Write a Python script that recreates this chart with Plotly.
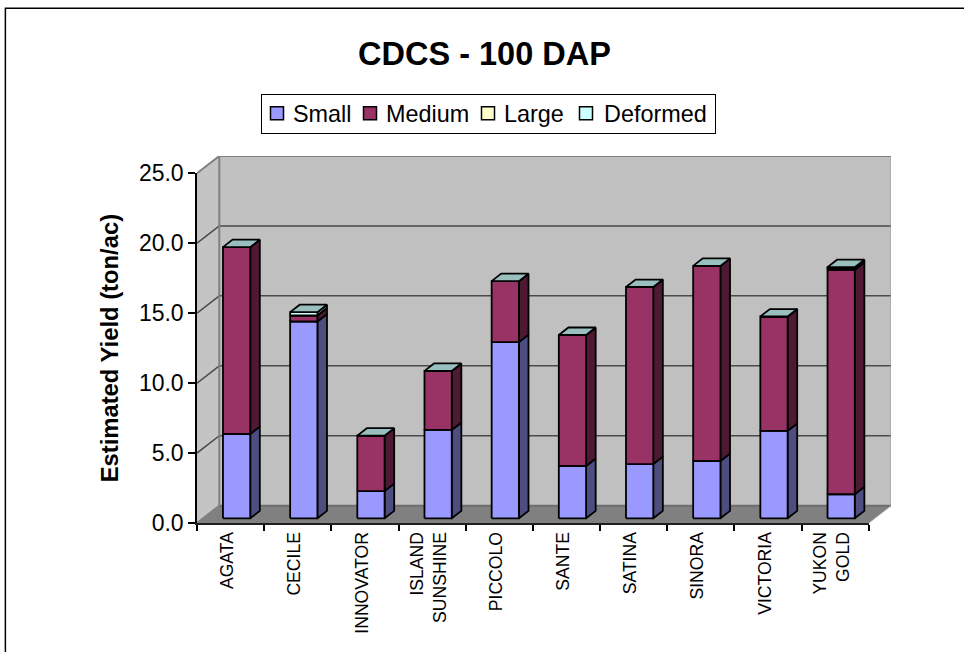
import plotly.graph_objects as go

categories = ["AGATA", "CECILE", "INNOVATOR", "ISLAND<br>SUNSHINE", "PICCOLO",
              "SANTE", "SATINA", "SINORA", "VICTORIA", "YUKON<br>GOLD"]
small = [6.03, 14.07, 1.95, 6.32, 12.6, 3.74, 3.88, 4.1, 6.25, 1.72]
medium = [13.36, 0.43, 3.96, 4.22, 4.36, 9.37, 12.66, 13.95, 8.18, 16.05]
large = [0, 0, 0, 0, 0, 0, 0, 0, 0, 0.1]
deformed = [0, 0.24, 0, 0, 0, 0, 0, 0, 0, 0.09]
series_names = ["Small", "Medium", "Large", "Deformed"]
y_ticks = [0, 5, 10, 15, 20, 25]

W, H = 964, 652
L, R, T, B = 197, 869, 173.3, 522.7
SX, SY = (R - L) / 10, (B - T) / 25
DPX, DPY = 22.3, 17.3           # depth of the box in pixels
DX, DY = DPX / SX, DPY / SY     # full depth in data units
F0, F1 = 0.27, 0.70             # bar front / back in depth fractions
BW = 0.406
FONT = "Liberation Sans"
PW, PH = R + DPX - L, B - T + DPY

front = ["#9999FF", "#993366", "#FFFFCC", "#CCFFFF"]
side = ["#4D4D80", "#4D1933", "#808066", "#668080"]
top_col = "#99BFBF"
series = [small, medium, large, deformed]


def px(x, y, d=0.0):
    return x + d * DX, y + d * DY


def poly(points, color, line="black", width=1.8):
    xs = [p[0] for p in points] + [points[0][0]]
    ys = [p[1] for p in points] + [points[0][1]]
    return go.Scatter(x=xs, y=ys, mode="lines", fill="toself", fillcolor=color,
                      line=dict(color=line, width=width), hoverinfo="skip",
                      showlegend=False, cliponaxis=False)


def seg(p0, p1, color, width):
    return go.Scatter(x=[p0[0], p1[0]], y=[p0[1], p1[1]], mode="lines",
                      line=dict(color=color, width=width), hoverinfo="skip",
                      showlegend=False, cliponaxis=False)


fig = go.Figure()
ymax = y_ticks[-1]
n = len(categories)
# walls and floor
fig.add_trace(poly([px(0, 0), px(0, ymax), px(0, ymax, 1), px(0, 0, 1)], "#C4C4C4", "#C4C4C4", 0))
fig.add_trace(poly([px(0, 0, 1), px(0, ymax, 1), px(n, ymax, 1), px(n, 0, 1)], "#C0C0C0", "#C0C0C0", 0))
fig.add_trace(poly([px(0, 0), px(0, 0, 1), px(n, 0, 1), px(n, 0)], "#808080", "#808080", 0))
for t in y_ticks:
    if t == 0:
        continue
    c, w = ("#808080", 2) if t == ymax else ("#4A4A4A", 1.5)
    fig.add_trace(seg(px(0, t), px(0, t, 1), c, w))
    fig.add_trace(seg(px(0, t, 1), px(n, t, 1), c, w))
fig.add_trace(seg(px(0, 0), px(0, 0, 1), "#808080", 2))
fig.add_trace(seg(px(0, 0, 1), px(0, ymax, 1), "#808080", 2))
fig.add_trace(seg(px(0, 0, 1), px(n, 0, 1), "#6E6E6E", 2))
fig.add_trace(seg(px(n, 0, 1), px(n, ymax, 1), "#9A9A9A", 1))
fig.add_trace(seg(px(n, 0), px(n, 0, 1), "#A0A0A0", 1))

# bars
for i in range(n):
    xc = i + 0.5
    x0, x1 = xc - BW / 2, xc + BW / 2
    base = 0.0
    for s, vals in enumerate(series):
        v0, v1 = base, base + vals[i]
        base = v1
        fig.add_trace(poly([px(x1, v0, F0), px(x1, v0, F1), px(x1, v1, F1), px(x1, v1, F0)], side[s]))
        fig.add_trace(poly([px(x0, v0, F0), px(x1, v0, F0), px(x1, v1, F0), px(x0, v1, F0)], front[s]))
    fig.add_trace(poly([px(x0, base, F0), px(x1, base, F0), px(x1, base, F1), px(x0, base, F1)], top_col))

# legend entries live on the axes that carry the ticks
for name, col in zip(series_names, front):
    fig.add_trace(go.Scatter(x=[None], y=[None], xaxis="x2", yaxis="y2", mode="markers", name=name,
                             marker=dict(symbol="square", size=13, color=col,
                                         line=dict(color="black", width=1.5))))

fig.update_layout(
    width=W, height=H, autosize=False,
    margin=dict(l=L, r=W - L - PW, t=B - PH, b=H - B),
    paper_bgcolor="white", plot_bgcolor="rgba(0,0,0,0)",
    font=dict(family=FONT, color="black", size=23),
    title=dict(text="<b>CDCS - 100 DAP</b>", x=484.5 / W, xanchor="center",
               y=1 - 54 / H, yanchor="middle", font=dict(size=32.5, family=FONT)),
    legend=dict(orientation="h", x=(488.5 - L) / PW, xanchor="center",
                y=(B - 113.5) / PH, yanchor="middle", bgcolor="white",
                bordercolor="black", borderwidth=1, font=dict(size=23.4, family=FONT),
                traceorder="normal"),
    xaxis=dict(visible=False, range=[0, n + DX], domain=[0, 1], anchor="y", fixedrange=True),
    yaxis=dict(visible=False, range=[0, ymax + DY], domain=[0, 1], anchor="x", fixedrange=True),
    xaxis2=dict(range=[0, n], domain=[0, (R - L) / PW], anchor="y2", tickmode="array",
                tickvals=[i + 0.5 for i in range(n)], ticktext=categories, tickangle=-90, ticks="",
                showline=True, linecolor="#202020", linewidth=2, showgrid=False, zeroline=False,
                fixedrange=True, tickfont=dict(size=17.6, family=FONT), ticklabelshift=-3,
                minor=dict(tickvals=list(range(n + 1)), ticks="outside", ticklen=6,
                           tickcolor="black", tickwidth=1.5, showgrid=False)),
    yaxis2=dict(range=[0, ymax], domain=[0, (B - T) / PH], anchor="x2", tickmode="array",
                tickvals=y_ticks, tickformat=".1f", ticks="outside", ticklen=7, tickcolor="black",
                tickwidth=1.5, showline=True, linecolor="black", linewidth=1.5, showgrid=False,
                zeroline=False, fixedrange=True, tickfont=dict(size=23, family=FONT),
                title=dict(text="<b>Estimated Yield (ton/ac)</b>", standoff=14,
                           font=dict(size=23.8, family=FONT))),
    shapes=[dict(type="rect", xref="paper", yref="paper",
                 x0=(5.3 - L) / PW, x1=(1100 - L) / PW,
                 y0=(B - 1000) / PH, y1=(B - 8.3) / PH,
                 line=dict(color="black", width=1.5), fillcolor="rgba(0,0,0,0)", layer="below")],
)

# Tighten the legend's entry spacing and box to the compact layout of the reference.
POST = """
document.body.style.margin='0';document.documentElement.style.overflow='hidden';
function fixLegend(){
  var lg=document.querySelector('.legend'); if(!lg) return;
  var want=[[277,293],[370,386],[488,504],[586,604]];
  lg.querySelectorAll('.traces').forEach(function(t,i){
    var txt=t.querySelector('.legendtext'), pts=t.querySelector('.legendpoints');
    var dt=want[i][1]-txt.getBoundingClientRect().left;
    txt.setAttribute('x',parseFloat(txt.getAttribute('x'))+dt);
    var r=pts.getBoundingClientRect(), m=/translate\\(([-\\d.]+)/.exec(pts.getAttribute('transform')||'');
    var cur=m?parseFloat(m[1]):0;
    pts.setAttribute('transform','translate('+(cur+want[i][0]-(r.left+r.right)/2)+',0)');
  });
  var bg=lg.querySelector('.bg'), b=bg.getBoundingClientRect();
  var x=parseFloat(bg.getAttribute('x')||0), y=parseFloat(bg.getAttribute('y')||0);
  bg.setAttribute('x',x+261-b.left); bg.setAttribute('y',y+94-b.top);
  bg.setAttribute('width',454.5); bg.setAttribute('height',39);
}
fixLegend(); setTimeout(fixLegend,30); setTimeout(fixLegend,200);
"""
fig.write_html("out.html", config=dict(displayModeBar=False), post_script=POST)
